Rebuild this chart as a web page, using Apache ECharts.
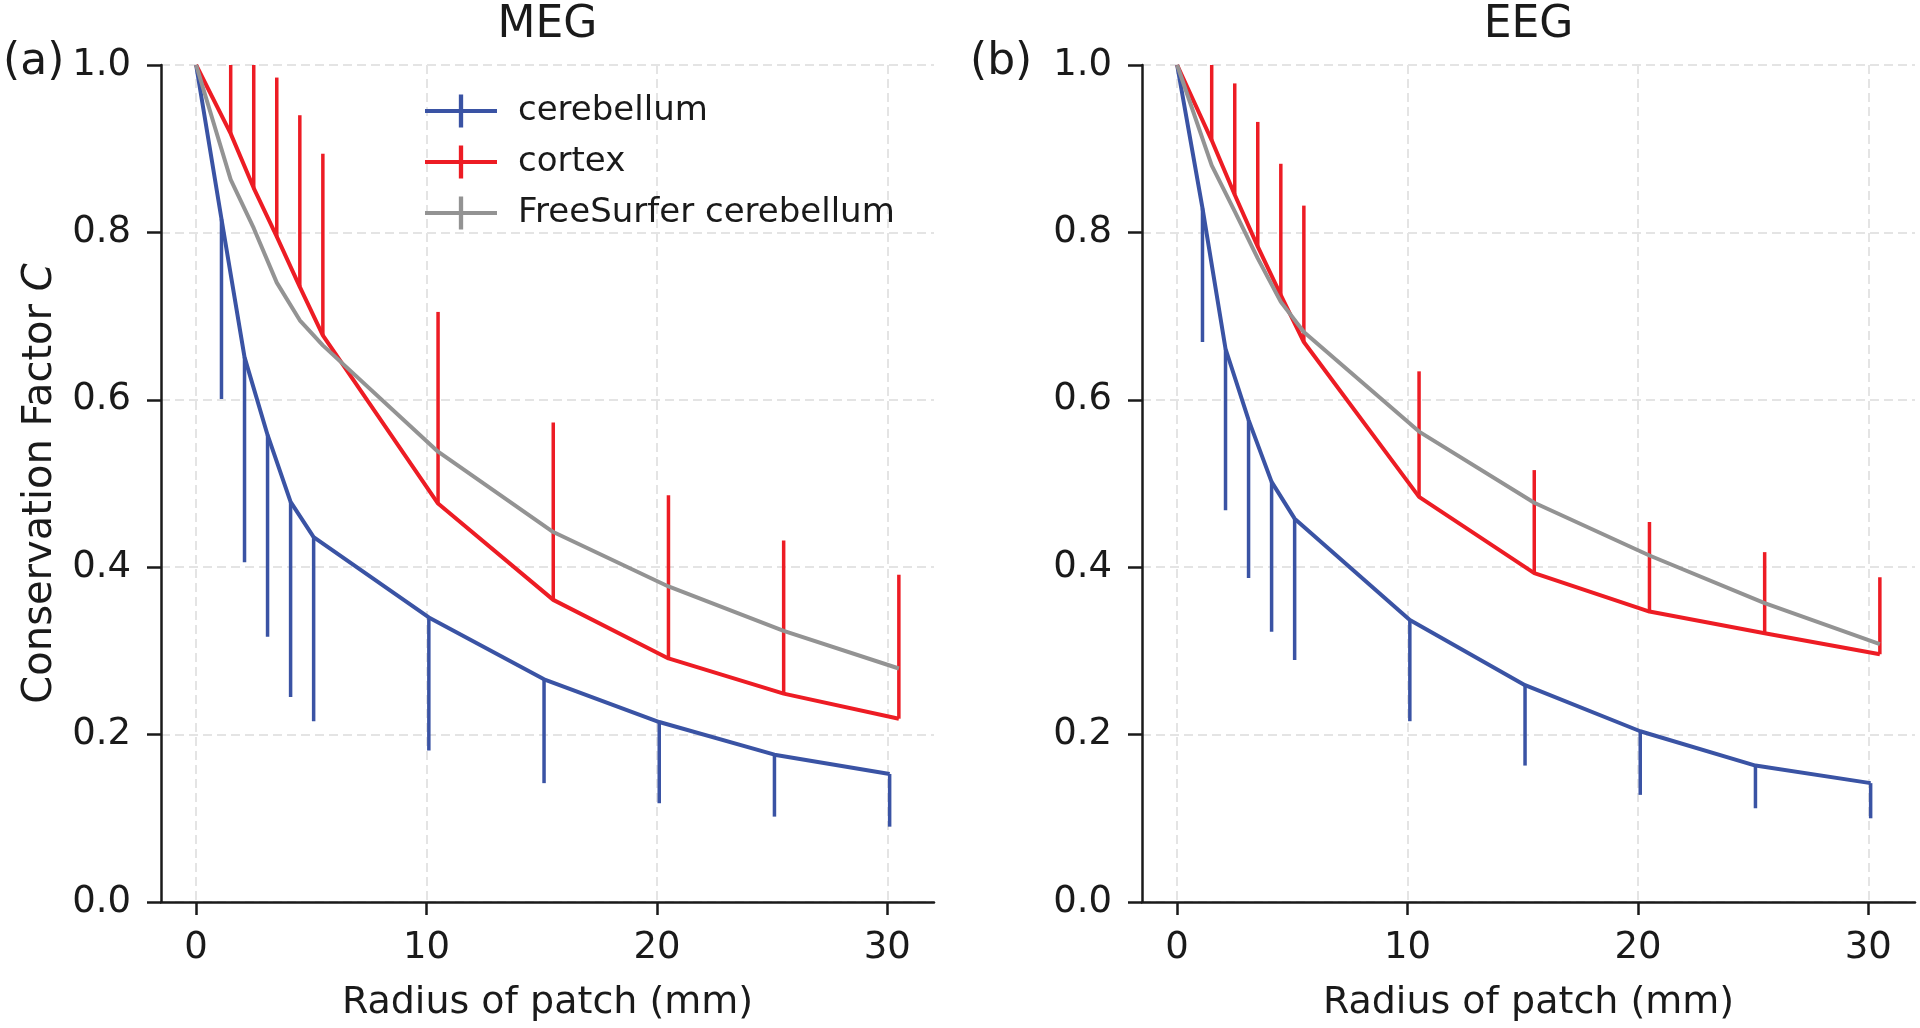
<!DOCTYPE html>
<html>
<head>
<meta charset="utf-8">
<script src="https://cdn.jsdelivr.net/npm/echarts@6.0.0/dist/echarts.min.js"></script>
<style>
  html, body { margin: 0; padding: 0; background: #fff; }
  #chart { width: 1920px; height: 1028px; }
</style>
</head>
<body>
<div id="chart"></div>
<script>
// --- data ---
// radius of patch (mm); the curves are shifted a little so the bars don't overlap
const cerebellumX = [0, 1.1, 2.1, 3.1, 4.1, 5.1, 10.1, 15.1, 20.1, 25.1, 30.1];
const cortexX = [0, 1.5, 2.5, 3.5, 4.5, 5.5, 10.5, 15.5, 20.5, 25.5, 30.5];
const freesurferX = [0, 1.5, 2.5, 3.5, 4.5, 5.5, 10.5, 15.5, 20.5, 25.5, 30.5];

// (a) MEG
const megCerebellum = [1.0, 0.816, 0.651, 0.558, 0.478, 0.436, 0.340, 0.266, 0.215, 0.176, 0.153];
const megCerebellumLow = [1.0, 0.601, 0.406, 0.317, 0.245, 0.216, 0.181, 0.142, 0.118, 0.102, 0.090];
const megCortex = [1.0, 0.918, 0.853, 0.795, 0.735, 0.677, 0.476, 0.361, 0.291, 0.249, 0.219];
const megCortexHigh = [1.0, 1.05, 1.03, 0.985, 0.940, 0.894, 0.705, 0.573, 0.486, 0.432, 0.391];
const megFreesurfer = [1.0, 0.863, 0.805, 0.740, 0.695, 0.665, 0.538, 0.442, 0.377, 0.324, 0.279];

// (b) EEG
const eegCerebellum = [1.0, 0.829, 0.661, 0.576, 0.502, 0.458, 0.337, 0.259, 0.204, 0.163, 0.142];
const eegCerebellumLow = [1.0, 0.669, 0.468, 0.387, 0.323, 0.289, 0.216, 0.163, 0.128, 0.112, 0.100];
const eegCortex = [1.0, 0.910, 0.845, 0.783, 0.725, 0.669, 0.484, 0.393, 0.347, 0.321, 0.296];
const eegCortexHigh = [1.0, 1.0, 0.978, 0.932, 0.882, 0.832, 0.634, 0.516, 0.454, 0.418, 0.388];
const eegFreesurfer = [1.0, 0.880, 0.825, 0.769, 0.717, 0.681, 0.562, 0.477, 0.414, 0.357, 0.308];

const xTicks = [0, 10, 20, 30];
const seriesNames = ["cerebellum", "cortex", "FreeSurfer cerebellum"];
const colors = ["#3a53a4", "#ed1c24", "#939393"];

const FONT = "DejaVu Sans";
const INK = "#1a1a1a";

const chart = echarts.init(document.getElementById("chart"));

const zip = (xs, ys) => xs.map((x, i) => [x, ys[i]]);
const zip3 = (xs, ys, ends) => xs.map((x, i) => [x, ys[i], ends[i]]);

// one-sided error bar drawn as a vertical segment
function renderBar(params, api) {
  const p1 = api.coord([api.value(0), api.value(1)]);
  const p2 = api.coord([api.value(0), api.value(2)]);
  return {
    type: "line",
    shape: { x1: p1[0], y1: p1[1], x2: p2[0], y2: p2[1] },
    style: { stroke: api.visual("color"), lineWidth: 3.5 }
  };
}

function lineSeries(idx, name, color, data) {
  return {
    name, type: "line", xAxisIndex: idx, yAxisIndex: idx,
    data, showSymbol: false, symbol: "none", color,
    lineStyle: { color, width: 4 }, itemStyle: { color },
    animation: false, clip: true
  };
}

function barSeries(idx, name, color, data) {
  return {
    name, type: "custom", xAxisIndex: idx, yAxisIndex: idx,
    data, renderItem: renderBar, itemStyle: { color },
    encode: { x: 0, y: [1, 2] }, clip: true, animation: false
  };
}

function panelSeries(idx, cer, cerLow, cor, corHigh, fs) {
  return [
    lineSeries(idx, seriesNames[0], colors[0], zip(cerebellumX, cer)),
    barSeries(idx, seriesNames[0], colors[0], zip3(cerebellumX, cer, cerLow)),
    lineSeries(idx, seriesNames[1], colors[1], zip(cortexX, cor)),
    barSeries(idx, seriesNames[1], colors[1], zip3(cortexX, cor, corHigh)),
    lineSeries(idx, seriesNames[2], colors[2], zip(freesurferX, fs))
  ];
}

const gridLine = { show: true, lineStyle: { color: "#e4e4e4", width: 2, type: [9, 5] } };

function xAxis(idx) {
  return {
    type: "value", gridIndex: idx, min: -1.525, max: 32.025,
    name: "Radius of patch (mm)", nameLocation: "middle", nameGap: 82,
    nameTextStyle: { fontFamily: FONT, fontSize: 38, color: INK },
    axisLine: { onZero: false, lineStyle: { color: INK, width: 2.5 } },
    axisTick: { customValues: xTicks, length: 13, lineStyle: { color: INK, width: 2.5 } },
    axisLabel: { customValues: xTicks, margin: 28, fontFamily: FONT, fontSize: 37, color: INK },
    splitLine: gridLine
  };
}

function yAxis(idx, withName) {
  return {
    type: "value", gridIndex: idx, min: 0, max: 1, interval: 0.2,
    name: withName ? "Conservation Factor {i|C}" : "",
    nameLocation: "middle", nameGap: 100,
    nameTextStyle: {
      fontFamily: FONT, fontSize: 40, color: INK,
      rich: { i: { fontFamily: FONT, fontSize: 40, fontStyle: "italic", color: INK } }
    },
    axisLine: { show: true, onZero: false, lineStyle: { color: INK, width: 2.5 } },
    axisTick: { show: true, length: 14, lineStyle: { color: INK, width: 2.5 } },
    axisLabel: {
      margin: 30, fontFamily: FONT, fontSize: 37, color: INK,
      formatter: v => v.toFixed(1)
    },
    splitLine: gridLine
  };
}

const plusIcon = "path://M0,44 L100,44 L100,56 L0,56 Z M47,0 L53,0 L53,100 L47,100 Z";

const option = {
  backgroundColor: "#fff",
  animation: false,
  grid: [
    { left: 161, top: 65, width: 773, height: 837 },
    { left: 1142, top: 65, width: 773, height: 837 }
  ],
  xAxis: [xAxis(0), xAxis(1)],
  yAxis: [yAxis(0, true), yAxis(1, false)],
  legend: {
    data: seriesNames, orient: "vertical", left: 420, top: 89,
    itemWidth: 72, itemHeight: 33, itemGap: 17,
    icon: plusIcon, symbolKeepAspect: false,
    textStyle: { fontFamily: FONT, fontSize: 34, color: INK, padding: [0, 0, 0, 16] }
  },
  graphic: [
    { type: "text", x: 547.5, y: 26, style: { text: "MEG", font: `44px "${FONT}"`, fill: INK, textAlign: "center", textVerticalAlign: "middle" } },
    { type: "text", x: 1528.5, y: 26, style: { text: "EEG", font: `44px "${FONT}"`, fill: INK, textAlign: "center", textVerticalAlign: "middle" } },
    { type: "text", x: 3, y: 63, style: { text: "(a)", font: `44px "${FONT}"`, fill: INK, textAlign: "left", textVerticalAlign: "middle" } },
    { type: "text", x: 970, y: 63, style: { text: "(b)", font: `44px "${FONT}"`, fill: INK, textAlign: "left", textVerticalAlign: "middle" } }
  ],
  series: [
    ...panelSeries(0, megCerebellum, megCerebellumLow, megCortex, megCortexHigh, megFreesurfer),
    ...panelSeries(1, eegCerebellum, eegCerebellumLow, eegCortex, eegCortexHigh, eegFreesurfer)
  ]
};

chart.setOption(option);
</script>
</body>
</html>
